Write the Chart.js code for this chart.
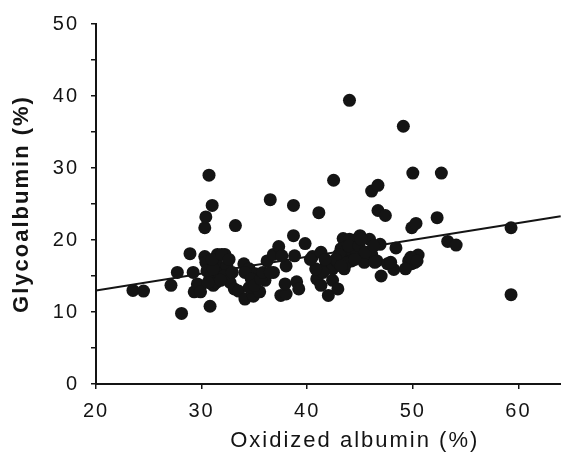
<!DOCTYPE html>
<html>
<head>
<meta charset="utf-8">
<script src="https://cdn.jsdelivr.net/npm/chart.js@4/dist/chart.umd.min.js"></script>
<style>
  html, body { margin: 0; padding: 0; background: #fff; overflow: hidden; }
  #wrap { position: absolute; left: 0; top: 0; width: 620px; height: 460px; }
</style>
</head>
<body>
<div id="wrap"><canvas id="chart" width="620" height="460"></canvas></div>
<script>
// Oxidized albumin (%) vs Glycoalbumin (%)
const oxAlb = [
  23.5, 24.5, 27.1, 27.7, 28.1, 28.9, 29.2, 29.3, 29.8, 29.6,
  30.3, 30.4, 30.7, 31.0, 30.8, 30.3, 30.4, 30.5, 30.8, 31.1,
  31.4, 31.6, 31.4, 31.5, 32.2, 32.4, 32.1, 32.7, 33.1, 33.5,
  33.2, 34.0, 34.5, 34.1, 34.9, 34.5, 35.1, 35.5, 36.0, 36.2,
  36.8, 37.3, 36.8, 36.5, 37.5, 38.0, 37.9, 39.0, 39.2, 38.0,
  38.7, 38.7, 38.8, 39.8, 41.1, 40.5, 41.3, 40.9, 41.3, 41.8,
  42.4, 42.9, 43.4, 42.0, 42.5, 42.4, 42.9, 44.0, 43.4, 44.0,
  44.5, 45.0, 43.2, 43.7, 44.3, 44.7, 43.5, 44.2, 45.4, 46.1,
  46.6, 45.9, 46.9, 46.1, 46.7, 46.7, 47.4, 47.0, 47.6, 48.2,
  48.4, 49.1, 49.6, 49.9, 50.5, 50.2, 49.3, 49.9, 50.3, 50.0,
  52.3, 52.7, 53.3, 54.1, 59.3, 59.3,
  43.0, 42.7, 43.9, 44.9, 43.7, 44.5, 45.5, 43.2, 41.5, 40.8,
  40.3, 41.7, 31.1, 31.0, 31.8, 31.9, 32.6, 32.9, 29.9, 30.6,
  34.1, 34.7, 35.0, 35.6, 35.8, 36.5, 37.6, 47.9, 49.8, 50.4,
  46.3, 45.1, 46.4
];
const glycoAlb = [
  13.0, 12.9, 13.7, 15.5, 9.8, 18.1, 15.5, 12.8, 13.3, 13.9,
  21.7, 23.2, 29.0, 24.8, 10.8, 17.7, 16.9, 15.7, 14.8, 13.7,
  14.1, 15.5, 16.9, 18.0, 18.0, 16.4, 15.0, 14.1, 13.2, 12.9,
  22.0, 16.7, 16.0, 11.8, 12.2, 13.4, 15.3, 12.8, 14.4, 17.1,
  18.0, 19.1, 15.5, 25.6, 12.3, 12.5, 13.9, 14.2, 13.2, 16.4,
  24.8, 20.6, 17.8, 19.5, 23.8, 17.7, 18.3, 14.6, 13.7, 16.7,
  16.0, 16.9, 17.4, 12.3, 28.3, 14.4, 13.2, 39.4, 20.2, 20.1,
  20.0, 20.6, 18.8, 18.0, 18.3, 18.3, 16.0, 17.1, 16.9, 18.0,
  17.1, 20.1, 19.4, 26.8, 27.6, 24.1, 23.4, 15.0, 16.7, 15.9,
  18.9, 35.8, 17.1, 16.7, 17.9, 16.9, 16.0, 21.7, 22.3, 29.3,
  23.1, 29.3, 19.8, 19.3, 21.7, 12.4,
  18.0, 17.3, 19.2, 19.2, 16.8, 17.3, 18.3, 16.4, 15.5, 16.0,
  17.3, 17.3, 16.0, 17.3, 14.4, 18.0, 17.3, 15.5, 12.8, 14.1,
  15.5, 14.6, 13.7, 14.6, 15.5, 15.5, 17.8, 16.9, 17.6, 17.1,
  19.2, 20.1, 16.9
];
// regression line end points
const fitX = [20, 64];
const fitY = [13.0, 23.3];

const xTicks = [20, 30, 40, 50, 60];
const yLabels = [0, 10, 20, 30, 40, 50];

const ink = '#141414';
const family = '"Liberation Sans", Arial, Helvetica, sans-serif';

// tiny plugin: a bit of letter spacing like the scanned figure
const spacing = {
  id: 'spacing',
  beforeDraw(chart) { chart.ctx.letterSpacing = '2px'; },
  afterDraw(chart) { chart.ctx.letterSpacing = '0px'; }
};

new Chart(document.getElementById('chart'), {
  type: 'scatter',
  data: {
    datasets: [{
      label: 'patients',
      data: oxAlb.map((x, i) => ({ x: x, y: glycoAlb[i] })),
      backgroundColor: ink,
      borderColor: ink,
      pointRadius: 6.5,
      pointHoverRadius: 6.5,
      borderWidth: 0
    }, {
      label: 'fit',
      type: 'line',
      data: fitX.map((x, i) => ({ x: x, y: fitY[i] })),
      borderColor: ink,
      borderWidth: 2,
      pointRadius: 0,
      fill: false
    }]
  },
  plugins: [spacing],
  options: {
    responsive: false,
    animation: false,
    layout: { padding: { top: 15, right: 4, left: 0, bottom: 0 } },
    plugins: { legend: { display: false }, tooltip: { enabled: false } },
    scales: {
      x: {
        type: 'linear',
        min: 20,
        max: 69,
        afterFit: s => { s.height = 76; },
        afterBuildTicks: s => { s.ticks = xTicks.map(v => ({ value: v })); },
        border: { color: ink, width: 2 },
        grid: { drawOnChartArea: false, drawTicks: true, tickLength: 5, color: ink, lineWidth: 1.5 },
        ticks: { color: ink, font: { family: family, size: 20 }, padding: 10, maxRotation: 0 },
        title: {
          display: true,
          text: 'Oxidized albumin (%)',
          color: ink,
          font: { family: family, size: 22 },
          padding: { top: 4, bottom: 6 }
        }
      },
      y: {
        min: 0,
        max: 50,
        afterFit: s => { s.width = 96; },
        ticks: {
          stepSize: 5,
          color: ink,
          font: { family: family, size: 20 },
          padding: 12,
          callback: v => (yLabels.includes(v) ? String(v) : '')
        },
        border: { color: ink, width: 2 },
        grid: { drawOnChartArea: false, drawTicks: true, tickLength: 5, color: ink, lineWidth: 1.5 },
        title: {
          display: true,
          text: 'Glycoalbumin (%)',
          color: ink,
          font: { family: family, size: 22, weight: 'bold' },
          padding: { top: 9, bottom: 4 }
        }
      }
    }
  }
});
</script>
</body>
</html>
